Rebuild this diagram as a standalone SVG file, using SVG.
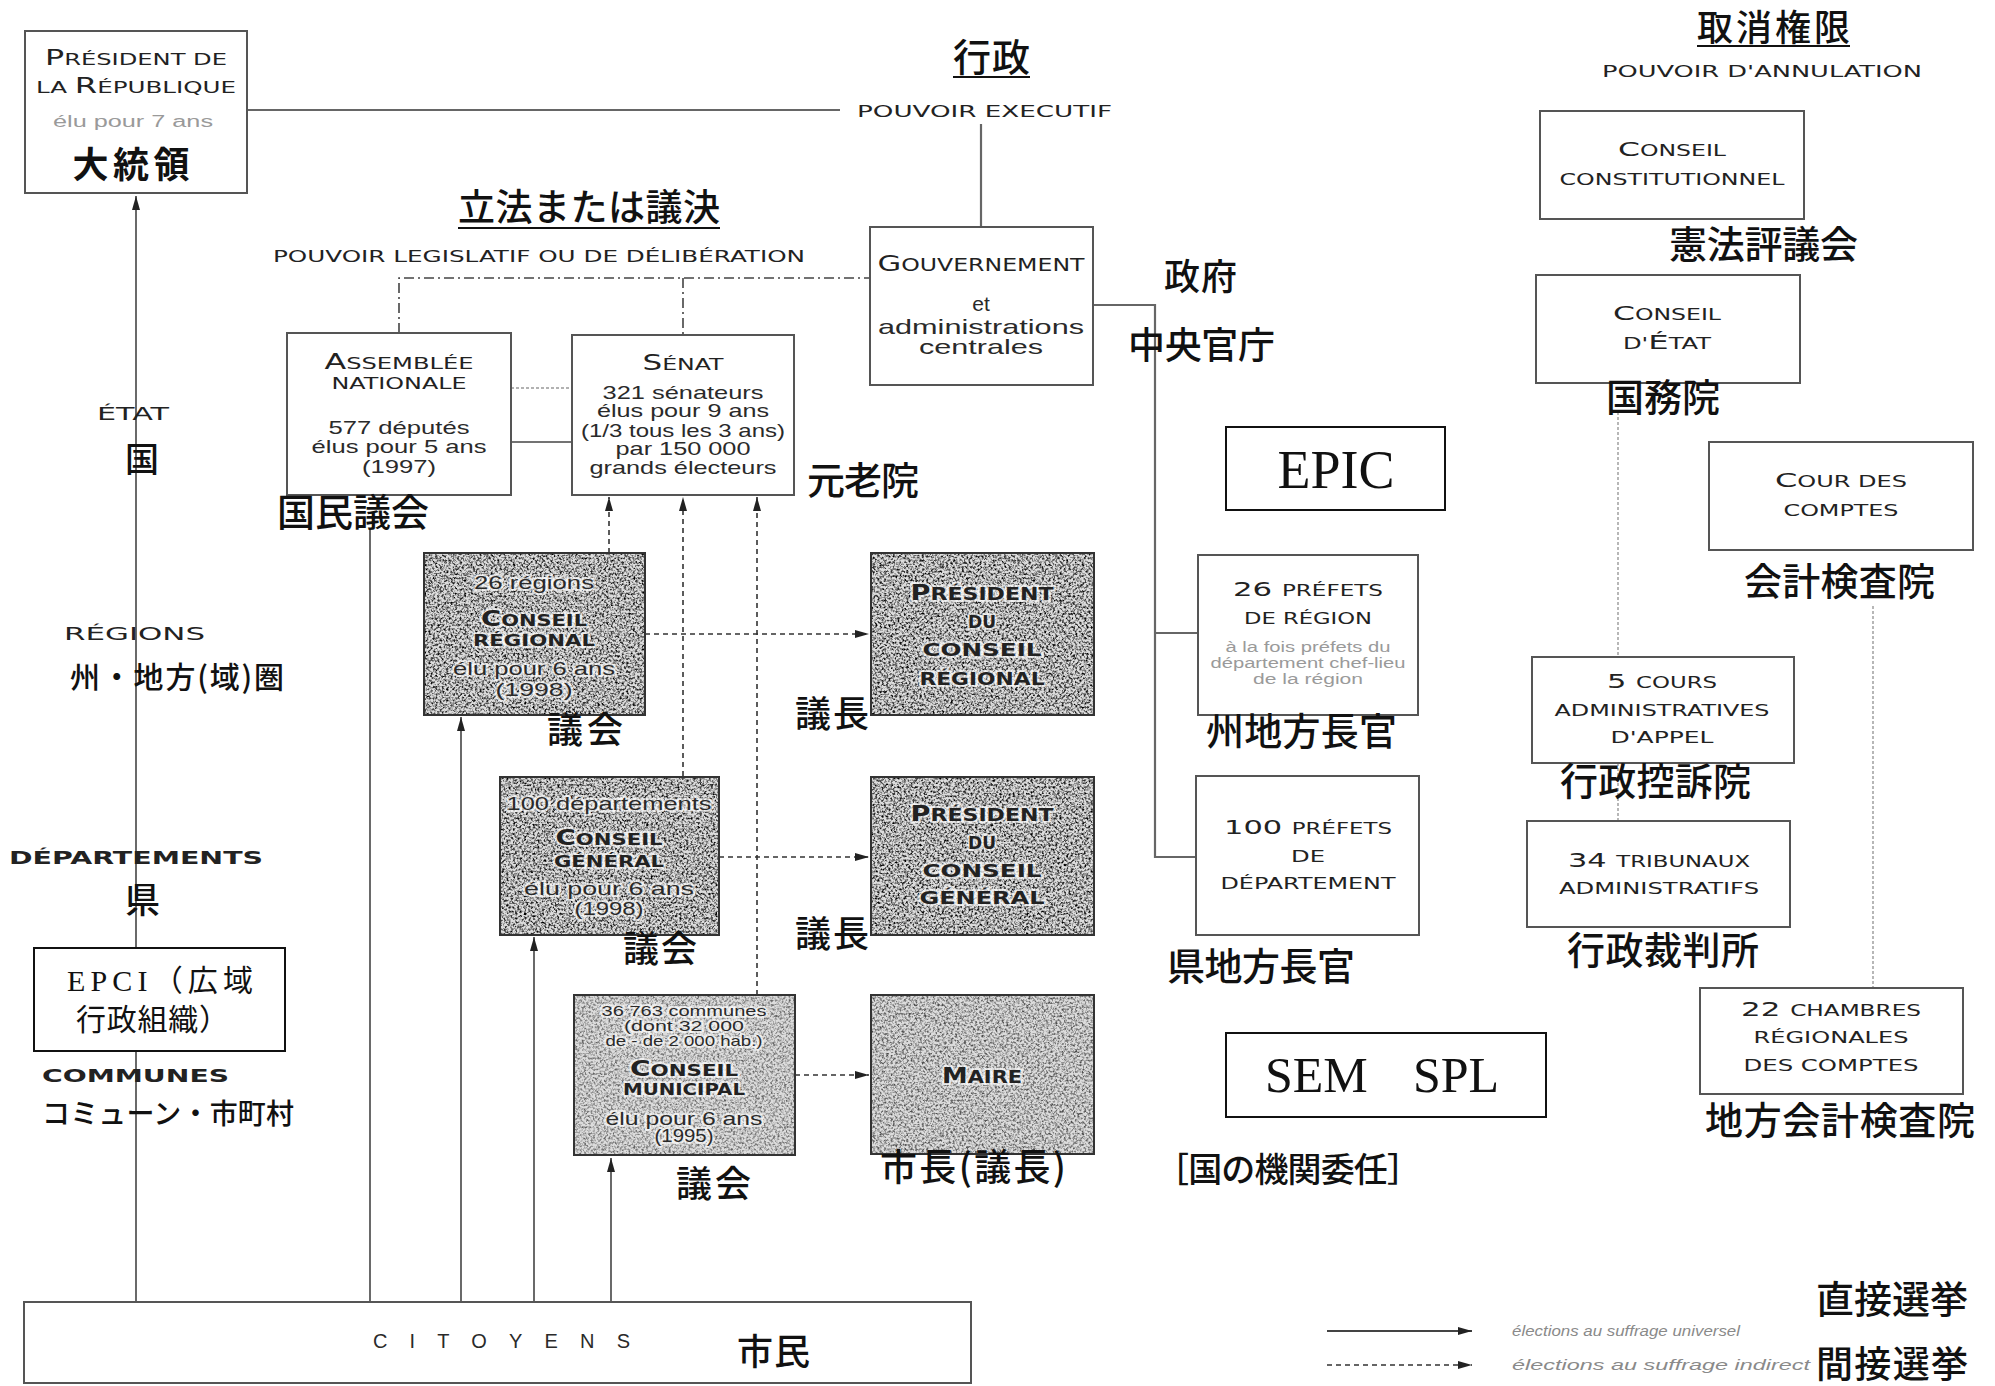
<svg xmlns="http://www.w3.org/2000/svg" width="1995" height="1386" viewBox="0 0 1995 1386">
<defs>
<style>
.fr{font-family:"Liberation Sans",Arial,sans-serif;fill:#2a2a2a}
.sc{font-family:"DejaVu Sans","Liberation Sans",sans-serif;fill:#222}
.jp{font-family:"Noto Sans CJK JP","Noto Sans CJK SC",sans-serif;fill:#111;font-weight:500}
.sf{font-family:"Liberation Serif","Times New Roman","Noto Sans CJK JP",serif;fill:#111}
.m{text-anchor:middle}
.b{font-weight:bold}
.it{font-style:italic;fill:#8a8a8a}
.gr{fill:#9a9a9a}
.box{fill:#fff;stroke:#555;stroke-width:2}
.sbox{fill:#dcdcdc;stroke:#333;stroke-width:2}
.grain{filter:url(#grain)}
.kbox{fill:#fff;stroke:#111;stroke-width:2}
.ln{fill:none;stroke:#444;stroke-width:1.6}
.gl{fill:none;stroke:#666;stroke-width:2.2}
.lg{fill:none;stroke:#999;stroke-width:1.4;stroke-dasharray:3 2}
.dt{fill:none;stroke:#333;stroke-width:1.6;stroke-dasharray:5 4}
.dd{fill:none;stroke:#444;stroke-width:1.6;stroke-dasharray:10 4 2 4}
.ul{stroke:#111;stroke-width:2}
.halo{paint-order:stroke;stroke:#fff;stroke-opacity:.65;stroke-width:4px;stroke-linejoin:round}
</style>
<filter id="grain" x="0" y="0" width="1" height="1" color-interpolation-filters="sRGB">
<feTurbulence type="fractalNoise" baseFrequency="0.45" numOctaves="4" seed="7"/>
<feColorMatrix type="matrix" values="0 0 0 0 0  0 0 0 0 0  0 0 0 0 0  2.6 0 0 0 -1.08"/>
</filter>
<marker id="ah" viewBox="0 0 14 10" refX="14" refY="5" markerWidth="14" markerHeight="10" markerUnits="userSpaceOnUse" orient="auto">
<path d="M0 1 L14 5 L0 9 z" fill="#222"/>
</marker>
</defs>
<rect width="1995" height="1386" fill="#fff"/>

<g id="connectors">
<path class="gl" d="M247 110 H840"/>
<path class="gl" d="M981 124 V227"/>
<path class="dd" d="M399 333 V278 H870 M683 278 V335"/>
<path class="lg" d="M511 388 H572"/>
<path class="ln" d="M511 442 H572"/>
<path class="gl" d="M1093 305 H1155 V858 M1155 633 H1198 M1155 857 H1196"/>
<path class="lg" d="M1618 412 V657 M1618 763 V821 M1873 606 V988"/>
<path class="ln" d="M136 1302 V196" marker-end="url(#ah)"/>
<path class="ln" d="M370 1302 V530"/>
<path class="ln" d="M461 1302 V717" marker-end="url(#ah)"/>
<path class="ln" d="M534 1302 V937" marker-end="url(#ah)"/>
<path class="ln" d="M611 1302 V1158" marker-end="url(#ah)"/>
<path class="dt" d="M609 553 V497" marker-end="url(#ah)"/>
<path class="dt" d="M683 776 V497" marker-end="url(#ah)"/>
<path class="dt" d="M757 995 V497" marker-end="url(#ah)"/>
<path class="dt" d="M645 634 H869" marker-end="url(#ah)"/>
<path class="dt" d="M719 857 H869" marker-end="url(#ah)"/>
<path class="dt" d="M795 1075 H869" marker-end="url(#ah)"/>
</g>

<g id="headings">
<text class="jp" x="953" y="71" font-size="38" textLength="77">行政</text>
<line class="ul" x1="953" y1="77" x2="1030" y2="77"/>
<text class="sc" x="857" y="117" font-size="16" textLength="255" lengthAdjust="spacingAndGlyphs" fill="#333">POUVOIR EXECUTIF</text>
<text class="jp" x="458" y="221" font-size="37" textLength="262">立法または議決</text>
<line class="ul" x1="458" y1="228" x2="720" y2="228"/>
<text class="sc" x="273" y="262" font-size="16" textLength="532" lengthAdjust="spacingAndGlyphs" fill="#333">POUVOIR LEGISLATIF OU DE DÉLIBÉRATION</text>
<text class="jp" x="1697" y="41" font-size="36" textLength="153">取消権限</text>
<line class="ul" x1="1697" y1="46" x2="1850" y2="46"/>
<text class="sc" x="1602" y="77" font-size="16" textLength="320" lengthAdjust="spacingAndGlyphs" fill="#333">POUVOIR D'ANNULATION</text>
</g>

<g id="president">
<rect class="box" x="25" y="31" width="222" height="162"/>
<text class="sc m" x="136" y="65" textLength="182" lengthAdjust="spacingAndGlyphs"><tspan font-size="21">P</tspan><tspan font-size="16">RÉSIDENT DE</tspan></text>
<text class="sc m" x="136" y="93" textLength="200" lengthAdjust="spacingAndGlyphs"><tspan font-size="16">LA </tspan><tspan font-size="21">R</tspan><tspan font-size="16">ÉPUBLIQUE</tspan></text>
<text class="fr m gr" x="133" y="127" font-size="16" textLength="160" lengthAdjust="spacingAndGlyphs">élu pour 7 ans</text>
<text class="jp m b" x="131" y="178" font-size="36" textLength="117">大統領</text>
</g>

<g id="gouvernement">
<rect class="box" x="870" y="227" width="223" height="158"/>
<text class="sc m" x="981" y="271" textLength="207" lengthAdjust="spacingAndGlyphs"><tspan font-size="22">G</tspan><tspan font-size="17">OUVERNEMENT</tspan></text>
<text class="fr m" x="981" y="311" font-size="21">et</text>
<text class="fr m" x="981" y="334" font-size="21" textLength="206" lengthAdjust="spacingAndGlyphs">administrations</text>
<text class="fr m" x="981" y="354" font-size="21" textLength="124" lengthAdjust="spacingAndGlyphs">centrales</text>
<text class="jp" x="1164" y="290" font-size="36" textLength="73">政府</text>
<text class="jp" x="1128" y="359" font-size="37" textLength="147">中央官庁</text>
</g>

<g id="assemblee">
<rect class="box" x="287" y="333" width="224" height="162"/>
<text class="sc m" x="399" y="369" textLength="149" lengthAdjust="spacingAndGlyphs"><tspan font-size="21">A</tspan><tspan font-size="16">SSEMBLÉE</tspan></text>
<text class="sc m" x="399" y="389" font-size="16" textLength="135" lengthAdjust="spacingAndGlyphs">NATIONALE</text>
<text class="fr m" x="399" y="434" font-size="19" textLength="141" lengthAdjust="spacingAndGlyphs">577 députés</text>
<text class="fr m" x="399" y="453" font-size="19" textLength="175" lengthAdjust="spacingAndGlyphs">élus pour 5 ans</text>
<text class="fr m" x="399" y="473" font-size="19" textLength="74" lengthAdjust="spacingAndGlyphs">(1997)</text>
<text class="jp" x="277" y="526" font-size="38" textLength="152">国民議会</text>
</g>

<g id="senat">
<rect class="box" x="572" y="335" width="222" height="160"/>
<text class="sc m" x="683" y="370" textLength="81" lengthAdjust="spacingAndGlyphs"><tspan font-size="21">S</tspan><tspan font-size="16">ÉNAT</tspan></text>
<text class="fr m" x="683" y="399" font-size="19" textLength="161" lengthAdjust="spacingAndGlyphs">321 sénateurs</text>
<text class="fr m" x="683" y="417" font-size="19" textLength="172" lengthAdjust="spacingAndGlyphs">élus pour 9 ans</text>
<text class="fr m" x="683" y="437" font-size="19" textLength="204" lengthAdjust="spacingAndGlyphs">(1/3 tous les 3 ans)</text>
<text class="fr m" x="683" y="455" font-size="19" textLength="135" lengthAdjust="spacingAndGlyphs">par 150 000</text>
<text class="fr m" x="683" y="474" font-size="19" textLength="187" lengthAdjust="spacingAndGlyphs">grands électeurs</text>
<text class="jp" x="807" y="494" font-size="38" textLength="112">元老院</text>
</g>

<g id="conseil-regional">
<rect class="sbox" x="424" y="553" width="221" height="162"/>
<rect class="grain" x="425" y="554" width="219" height="160"/>
<text class="fr m halo" x="534" y="589" font-size="19" textLength="120" lengthAdjust="spacingAndGlyphs">26 régions</text>
<text class="sc m b halo" x="534" y="626" textLength="106" lengthAdjust="spacingAndGlyphs"><tspan font-size="21">C</tspan><tspan font-size="16">ONSEIL</tspan></text>
<text class="sc m b halo" x="534" y="646" font-size="16" textLength="122" lengthAdjust="spacingAndGlyphs">RÉGIONAL</text>
<text class="fr m halo" x="534" y="675" font-size="19" textLength="162" lengthAdjust="spacingAndGlyphs">élu pour 6 ans</text>
<text class="fr m halo" x="534" y="696" font-size="19" textLength="77" lengthAdjust="spacingAndGlyphs">(1998)</text>
<text class="jp" x="547" y="743" font-size="36" textLength="76">議会</text>
</g>

<g id="president-cr">
<rect class="sbox" x="871" y="553" width="223" height="162"/>
<rect class="grain" x="872" y="554" width="221" height="160"/>
<text class="sc m b halo" x="982" y="600" textLength="143" lengthAdjust="spacingAndGlyphs"><tspan font-size="21">P</tspan><tspan font-size="17">RÉSIDENT</tspan></text>
<text class="sc m b halo" x="982" y="628" font-size="17">DU</text>
<text class="sc m b halo" x="982" y="656" font-size="17" textLength="119" lengthAdjust="spacingAndGlyphs">CONSEIL</text>
<text class="sc m b halo" x="982" y="685" font-size="17" textLength="125" lengthAdjust="spacingAndGlyphs">RÉGIONAL</text>
<text class="jp" x="795" y="727" font-size="36" textLength="74">議長</text>
</g>

<g id="conseil-general">
<rect class="sbox" x="500" y="777" width="219" height="158"/>
<rect class="grain" x="501" y="778" width="217" height="156"/>
<text class="fr m halo" x="609" y="810" font-size="19" textLength="205" lengthAdjust="spacingAndGlyphs">100 départements</text>
<text class="sc m b halo" x="609" y="845" textLength="107" lengthAdjust="spacingAndGlyphs"><tspan font-size="21">C</tspan><tspan font-size="16">ONSEIL</tspan></text>
<text class="sc m b halo" x="609" y="867" font-size="16" textLength="110" lengthAdjust="spacingAndGlyphs">GÉNÉRAL</text>
<text class="fr m halo" x="609" y="895" font-size="19" textLength="170" lengthAdjust="spacingAndGlyphs">élu pour 6 ans</text>
<text class="fr m halo" x="609" y="915" font-size="19" textLength="69" lengthAdjust="spacingAndGlyphs">(1998)</text>
<text class="jp" x="623" y="962" font-size="36" textLength="74">議会</text>
</g>

<g id="president-cg">
<rect class="sbox" x="871" y="777" width="223" height="158"/>
<rect class="grain" x="872" y="778" width="221" height="156"/>
<text class="sc m b halo" x="982" y="821" textLength="143" lengthAdjust="spacingAndGlyphs"><tspan font-size="21">P</tspan><tspan font-size="17">RÉSIDENT</tspan></text>
<text class="sc m b halo" x="982" y="849" font-size="17">DU</text>
<text class="sc m b halo" x="982" y="877" font-size="17" textLength="119" lengthAdjust="spacingAndGlyphs">CONSEIL</text>
<text class="sc m b halo" x="982" y="904" font-size="17" textLength="125" lengthAdjust="spacingAndGlyphs">GÉNÉRAL</text>
<text class="jp" x="795" y="947" font-size="36" textLength="74">議長</text>
</g>

<g id="conseil-municipal">
<rect class="sbox" x="574" y="995" width="221" height="160" fill="#e6e6e6"/>
<rect class="grain" x="575" y="996" width="219" height="158" opacity="0.55"/>
<text class="fr m halo" x="684" y="1016" font-size="15" textLength="165" lengthAdjust="spacingAndGlyphs">36 763 communes</text>
<text class="fr m halo" x="684" y="1031" font-size="15" textLength="120" lengthAdjust="spacingAndGlyphs">(dont 32 000</text>
<text class="fr m halo" x="684" y="1046" font-size="15" textLength="157" lengthAdjust="spacingAndGlyphs">de - de 2 000 hab.)</text>
<text class="sc m b halo" x="684" y="1076" textLength="108" lengthAdjust="spacingAndGlyphs"><tspan font-size="21">C</tspan><tspan font-size="16">ONSEIL</tspan></text>
<text class="sc m b halo" x="684" y="1095" font-size="16" textLength="122" lengthAdjust="spacingAndGlyphs">MUNICIPAL</text>
<text class="fr m halo" x="684" y="1125" font-size="19" textLength="157" lengthAdjust="spacingAndGlyphs">élu pour 6 ans</text>
<text class="fr m halo" x="684" y="1142" font-size="18" textLength="59" lengthAdjust="spacingAndGlyphs">(1995)</text>
<text class="jp" x="676" y="1197" font-size="36" textLength="75">議会</text>
</g>

<g id="maire">
<rect class="sbox" x="871" y="995" width="223" height="159" fill="#e2e2e2"/>
<rect class="grain" x="872" y="996" width="221" height="157" opacity="0.65"/>
<text class="sc m b halo" x="982" y="1083" textLength="80" lengthAdjust="spacingAndGlyphs"><tspan font-size="21">M</tspan><tspan font-size="17">AIRE</tspan></text>
<text class="jp" x="880" y="1181" font-size="37" textLength="186">市長(議長)</text>
</g>

<g id="epic">
<rect class="kbox" x="1226" y="427" width="219" height="83"/>
<text class="sf m" x="1336" y="488" font-size="54">EPIC</text>
</g>

<g id="prefets-region">
<rect class="box" x="1198" y="555" width="220" height="160"/>
<text class="sc m" x="1308" y="596" textLength="150" lengthAdjust="spacingAndGlyphs"><tspan font-size="20">26 </tspan><tspan font-size="15">PRÉFETS</tspan></text>
<text class="sc m" x="1308" y="624" font-size="15" textLength="128" lengthAdjust="spacingAndGlyphs">DE RÉGION</text>
<text class="fr m gr" x="1308" y="652" font-size="14" textLength="165" lengthAdjust="spacingAndGlyphs">à la fois préfets du</text>
<text class="fr m gr" x="1308" y="668" font-size="14" textLength="195" lengthAdjust="spacingAndGlyphs">département chef-lieu</text>
<text class="fr m gr" x="1308" y="684" font-size="14" textLength="110" lengthAdjust="spacingAndGlyphs">de la région</text>
<text class="jp" x="1206" y="745" font-size="38" textLength="191">州地方長官</text>
</g>

<g id="prefets-departement">
<rect class="box" x="1196" y="776" width="223" height="159"/>
<text class="sc m" x="1308" y="834" textLength="168" lengthAdjust="spacingAndGlyphs"><tspan font-size="20">100 </tspan><tspan font-size="15">PRÉFETS</tspan></text>
<text class="sc m" x="1308" y="862" font-size="15" textLength="34" lengthAdjust="spacingAndGlyphs">DE</text>
<text class="sc m" x="1308" y="889" font-size="15" textLength="175" lengthAdjust="spacingAndGlyphs">DÉPARTEMENT</text>
<text class="jp" x="1167" y="980" font-size="38" textLength="188">県地方長官</text>
</g>

<g id="sem-spl">
<rect class="kbox" x="1226" y="1033" width="320" height="84"/>
<text class="sf" x="1265" y="1092" font-size="50">SEM</text>
<text class="sf" x="1413" y="1092" font-size="50">SPL</text>
<text class="jp" x="1155" y="1182" font-size="34" textLength="266">［国の機関委任］</text>
</g>

<g id="conseil-constitutionnel">
<rect class="box" x="1540" y="111" width="264" height="108"/>
<text class="sc m" x="1672" y="156" textLength="108" lengthAdjust="spacingAndGlyphs"><tspan font-size="20">C</tspan><tspan font-size="15">ONSEIL</tspan></text>
<text class="sc m" x="1672" y="185" font-size="15" textLength="225" lengthAdjust="spacingAndGlyphs">CONSTITUTIONNEL</text>
<text class="jp" x="1669" y="258" font-size="38" textLength="189">憲法評議会</text>
</g>

<g id="conseil-etat">
<rect class="box" x="1536" y="275" width="264" height="108"/>
<text class="sc m" x="1667" y="320" textLength="108" lengthAdjust="spacingAndGlyphs"><tspan font-size="20">C</tspan><tspan font-size="15">ONSEIL</tspan></text>
<text class="sc m" x="1667" y="349" textLength="88" lengthAdjust="spacingAndGlyphs"><tspan font-size="15">D'</tspan><tspan font-size="20">É</tspan><tspan font-size="15">TAT</tspan></text>
<text class="jp" x="1606" y="411" font-size="38" textLength="114">国務院</text>
</g>

<g id="cour-des-comptes">
<rect class="box" x="1709" y="442" width="264" height="108"/>
<text class="sc m" x="1841" y="487" textLength="132" lengthAdjust="spacingAndGlyphs"><tspan font-size="20">C</tspan><tspan font-size="15">OUR DES</tspan></text>
<text class="sc m" x="1841" y="516" font-size="15" textLength="115" lengthAdjust="spacingAndGlyphs">COMPTES</text>
<text class="jp" x="1744" y="595" font-size="38" textLength="191">会計検査院</text>
</g>

<g id="cours-appel">
<rect class="box" x="1532" y="657" width="262" height="106"/>
<text class="sc m" x="1662" y="688" textLength="110" lengthAdjust="spacingAndGlyphs"><tspan font-size="20">5 </tspan><tspan font-size="15">COURS</tspan></text>
<text class="sc m" x="1662" y="716" font-size="15" textLength="215" lengthAdjust="spacingAndGlyphs">ADMINISTRATIVES</text>
<text class="sc m" x="1662" y="743" font-size="15" textLength="103" lengthAdjust="spacingAndGlyphs">D'APPEL</text>
<text class="jp" x="1560" y="795" font-size="38" textLength="191">行政控訴院</text>
</g>

<g id="tribunaux">
<rect class="box" x="1527" y="821" width="263" height="106"/>
<text class="sc m" x="1659" y="867" textLength="182" lengthAdjust="spacingAndGlyphs"><tspan font-size="20">34 </tspan><tspan font-size="15">TRIBUNAUX</tspan></text>
<text class="sc m" x="1659" y="894" font-size="15" textLength="200" lengthAdjust="spacingAndGlyphs">ADMINISTRATIFS</text>
<text class="jp" x="1567" y="964" font-size="38" textLength="192">行政裁判所</text>
</g>

<g id="chambres-regionales">
<rect class="box" x="1700" y="988" width="263" height="106"/>
<text class="sc m" x="1831" y="1016" textLength="180" lengthAdjust="spacingAndGlyphs"><tspan font-size="20">22 </tspan><tspan font-size="15">CHAMBRES</tspan></text>
<text class="sc m" x="1831" y="1043" font-size="15" textLength="155" lengthAdjust="spacingAndGlyphs">RÉGIONALES</text>
<text class="sc m" x="1831" y="1071" font-size="15" textLength="175" lengthAdjust="spacingAndGlyphs">DES COMPTES</text>
<text class="jp" x="1705" y="1134" font-size="38" textLength="270">地方会計検査院</text>
</g>

<g id="levels">
<text class="sc" x="97" y="420" font-size="17" textLength="72" lengthAdjust="spacingAndGlyphs">ÉTAT</text>
<text class="jp" x="125" y="472" font-size="34">国</text>
<text class="sc" x="64" y="640" font-size="17" textLength="141" lengthAdjust="spacingAndGlyphs">RÉGIONS</text>
<text class="jp" x="70" y="688" font-size="30" textLength="214">州・地方(域)圏</text>
<text class="sc b" x="9" y="864" font-size="17" textLength="254" lengthAdjust="spacingAndGlyphs">DÉPARTEMENTS</text>
<text class="jp" x="125" y="913" font-size="35">県</text>
<text class="sc b" x="42" y="1082" font-size="17" textLength="187" lengthAdjust="spacingAndGlyphs">COMMUNES</text>
<text class="jp" x="42" y="1124" font-size="28" textLength="252">コミューン・市町村</text>
</g>

<g id="epci">
<rect class="kbox" x="34" y="948" width="251" height="103" fill="none"/>
<text class="sf" x="67" y="991" font-size="30" textLength="186">EPCI（広域</text>
<text class="sf" x="76" y="1030" font-size="30" textLength="153">行政組織）</text>
</g>

<g id="citoyens">
<rect class="box" x="24" y="1302" width="947" height="81"/>
<text class="fr" x="373" y="1348" font-size="20" textLength="257">CITOYENS</text>
<text class="jp" x="737" y="1365" font-size="36" textLength="73">市民</text>
</g>

<g id="legend">
<path class="ln" d="M1327 1331 H1472" marker-end="url(#ah)" style="stroke-width:2"/>
<path class="dt" d="M1327 1365 H1472" marker-end="url(#ah)"/>
<text class="fr it" x="1512" y="1336" font-size="15" textLength="228" lengthAdjust="spacingAndGlyphs">élections au suffrage universel</text>
<text class="fr it" x="1512" y="1370" font-size="15" textLength="298" lengthAdjust="spacingAndGlyphs">élections au suffrage indirect</text>
<text class="jp" x="1816" y="1313" font-size="38" textLength="152">直接選挙</text>
<text class="jp" x="1816" y="1378" font-size="37" textLength="152">間接選挙</text>
</g>
</svg>
